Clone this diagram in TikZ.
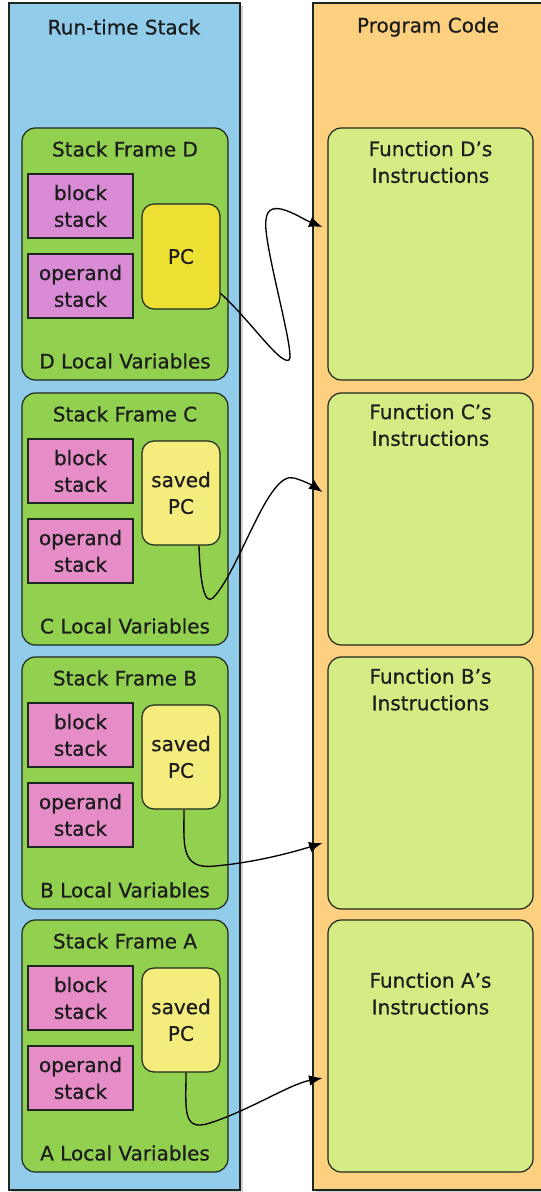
\documentclass[tikz,border=0pt]{standalone}
\usepackage{fontspec}
\setmainfont{DejaVu Sans}[FakeBold=0.6]
\usetikzlibrary{arrows.meta}
\definecolor{linec}{HTML}{1E2620}
\definecolor{textc}{HTML}{1C1C1C}
\definecolor{bluep}{HTML}{91CDEA}
\definecolor{orangep}{HTML}{FCD07E}
\definecolor{frameg}{HTML}{92D14F}
\definecolor{funcg}{HTML}{D5EC84}
\definecolor{pinkD}{HTML}{D98BD6}
\definecolor{pinkN}{HTML}{E68CC6}
\definecolor{pcy}{HTML}{EEE033}
\definecolor{savedy}{HTML}{F4EC7C}
\begin{document}
\begin{tikzpicture}[x=0.75pt,y=-0.75pt,
  font=\fontsize{15}{20}\selectfont,
  every node/.style={text=textc},
  panel/.style={draw=linec, line width=0.9pt, inner sep=0pt, minimum width=173.25pt, minimum height=890.25pt},
  shadowbox/.style={fill=black!18, draw=none, inner sep=0pt, minimum width=173.25pt, minimum height=890.25pt},
  framebox/.style={draw=linec, line width=0.9pt, fill=frameg, rounded corners=10pt, inner sep=0pt, minimum width=154.5pt, minimum height=189pt},
  funcbox/.style={draw=linec, line width=0.9pt, fill=funcg, rounded corners=10pt, inner sep=0pt, minimum width=153.75pt, minimum height=189pt},
  stk/.style={draw=linec, line width=0.9pt, inner sep=0pt, minimum width=78.75pt, minimum height=48pt, align=center},
  pcbox/.style={draw=linec, line width=0.9pt, rounded corners=9pt, inner sep=0pt, minimum width=58.5pt, align=center},
  lbl/.style={inner sep=0pt, align=center},
  conn/.style={draw=black, line width=1pt, -{Latex[length=10pt,width=8pt]}}
]
\useasboundingbox (0,0) rectangle (540,1192);
\fill[white] (0,0) rectangle (540,1192);
% panel shadows
\node[shadowbox] (shB) at (127.5,599) {};
\node[shadowbox, minimum width=185.25pt] (shO) at (439.5,599) {};
% panels
\node[panel, fill=bluep] (stack) at (124.5,596.5) {};
\node[panel, fill=orangep, minimum width=185.25pt] (code) at (436.5,596.5) {};
\node[lbl] (stackT) at (124,27) {Run-time Stack};
\node[lbl] (codeT) at (428,27) {Program Code};

\foreach \L/\T/\P in {D/128/pinkD, C/393/pinkN, B/657/pinkN, A/920/pinkN}{
  \node[framebox] (frame\L) at (125,\T+126) {};
  \node[lbl] (frameT\L) at (125,\T+21) {Stack Frame \L};
  \node[stk, fill=\P] (block\L) at (80.5,\T+78) {block\\stack};
  \node[stk, fill=\P] (oper\L) at (80.5,\T+158) {operand\\stack};
  \node[lbl] (local\L) at (125,\T+233) {\L\ Local Variables};
  \node[funcbox] (func\L) at (430.5,\T+126) {};
}
\node[pcbox, fill=pcy, minimum height=78.75pt] (pcD) at (181,256.5) {PC};
\node[pcbox, fill=savedy, minimum height=78pt] (pcC) at (181,493) {saved\\PC};
\node[pcbox, fill=savedy, minimum height=78pt] (pcB) at (181,757) {saved\\PC};
\node[pcbox, fill=savedy, minimum height=78pt] (pcA) at (181,1020) {saved\\PC};

\node[lbl] (ftD) at (430.5,162) {Function D's\\Instructions};
\node[lbl] (ftC) at (430.5,425) {Function C's\\Instructions};
\node[lbl] (ftB) at (430.5,689.5) {Function B's\\Instructions};
\node[lbl] (ftA) at (430.5,993.5) {Function A's\\Instructions};

% connectors
\draw[conn] ([shift={(0,37)}]pcD.east) .. controls (250,320) and (280,365) .. (289,360)
   .. controls (296,355) and (262,240) .. (266,220)
   .. controls (268,195) and (300,218) .. ([shift={(-5,-27)}]funcD.west);
\draw[conn] ([shift={(18,0)}]pcC.south) .. controls (200,580) and (204,606) .. (213,598)
   .. controls (240,570) and (268,470) .. (294,478)
   .. controls (305,481) and (315,487) .. ([shift={(-5,-27)}]funcC.west);
\draw[conn] ([shift={(3,0)}]pcB.south) .. controls (184,845) and (180,870) .. (215,866)
   .. controls (260,862) and (300,850) .. ([shift={(-5,60)}]funcB.west);
\draw[conn] ([shift={(5,0)}]pcA.south) .. controls (186,1110) and (182,1132) .. (210,1123)
   .. controls (250,1110) and (290,1084) .. ([shift={(-5,32)}]funcA.west);
\end{tikzpicture}
\end{document}
